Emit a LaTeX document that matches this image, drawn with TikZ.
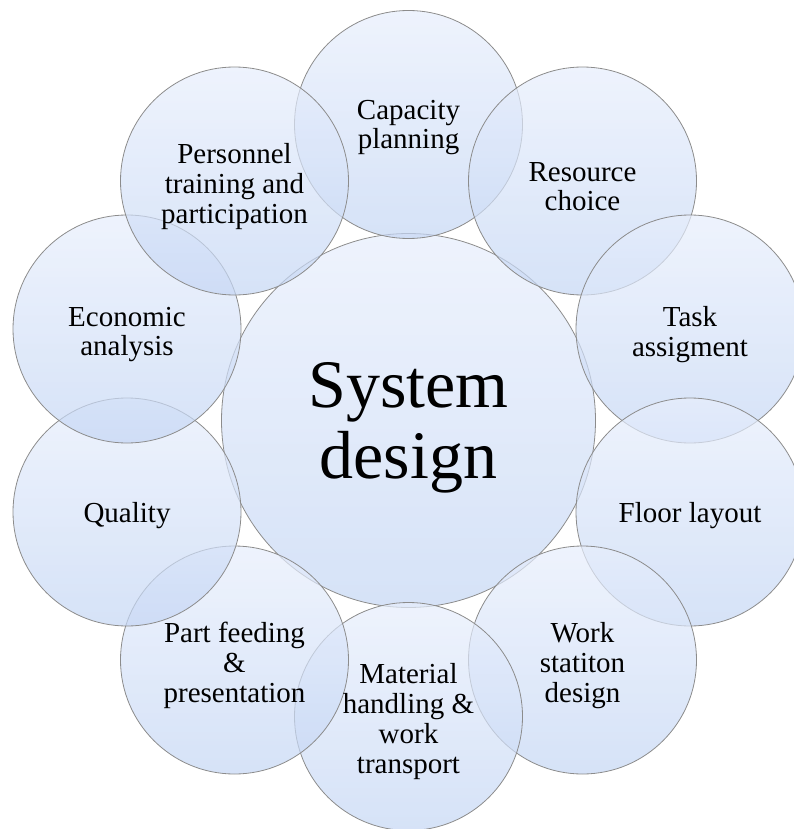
\documentclass[tikz,border=0pt]{standalone}
\usepackage{fontspec}
\setmainfont{Liberation Serif}
\definecolor{topc}{RGB}{231,238,252}
\definecolor{botc}{RGB}{196,214,244}
\definecolor{rim}{RGB}{140,140,140}
\tikzset{
  bubble/.style={circle, draw=rim, line width=0.8pt, top color=topc, bottom color=botc, fill opacity=0.7, text opacity=1, inner sep=0pt},
  outer/.style={bubble, minimum size=228pt},
  centre/.style={bubble, minimum size=374pt},
  lbl/.style={align=center, font=\fontsize{29}{29.7}\selectfont, text=black, inner sep=0pt},
  biglbl/.style={align=center, font=\fontsize{68}{71}\selectfont, text=black, inner sep=0pt}
}
\begin{document}
\begin{tikzpicture}[x=1pt,y=-1pt]
\useasboundingbox (0,0) rectangle (794,829);
\begin{scope}
\clip (0,0) rectangle (794,829);
\node[centre] (c) at (408.5,420.5) {};
\node[outer] (cap) at (408.5,124.5) {};
\node[outer] (res) at (582.5,181) {};
\node[outer] (task) at (690,329) {};
\node[outer] (floor) at (690,512) {};
\node[outer] (work) at (582.5,660) {};
\node[outer] (mat) at (408.5,716.5) {};
\node[outer] (part) at (234.5,660) {};
\node[outer] (qual) at (127,512) {};
\node[outer] (eco) at (127,329) {};
\node[outer] (pers) at (234.5,181) {};
\end{scope}
\node[biglbl] (tc) at (408.5,428) {System\\design};
\node[lbl] (tcap) at (408.5,127.5) {Capacity\\planning};
\node[lbl] (tres) at (582.5,186.5) {Resource\\choice};
\node[lbl] (ttask) at (690,334.5) {Task\\assigment};
\node[lbl] (tfloor) at (690,516) {Floor layout};
\node[lbl] (twork) at (582.5,665.5) {Work\\statiton\\design};
\node[lbl] (tmat) at (408.5,721.5) {Material\\handling \&\\work\\transport};
\node[lbl] (tpart) at (234.5,665.5) {Part feeding\\\&\\presentation};
\node[lbl] (tqual) at (127,516) {Quality};
\node[lbl] (teco) at (127,334.5) {Economic\\analysis};
\node[lbl] (tpers) at (234.5,186.5) {Personnel\\training and\\participation};
\end{tikzpicture}
\end{document}
